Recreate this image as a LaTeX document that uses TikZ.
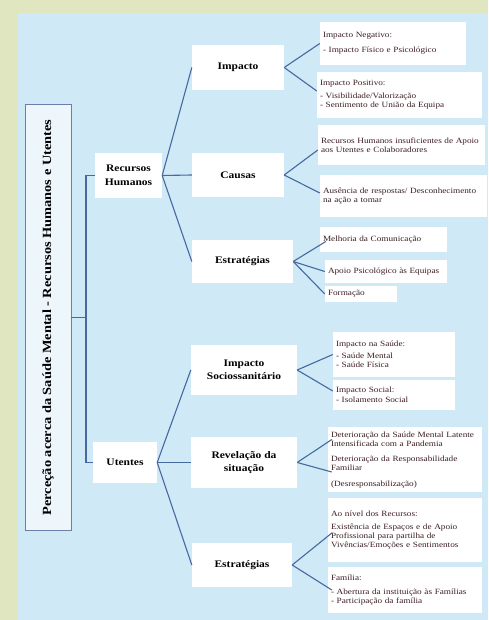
\documentclass[tikz,border=0pt]{standalone}
\usepackage{fontspec}
\setmainfont{Liberation Serif}[FakeStretch=1.15]
\newfontfamily\headfont{Carlito}
\definecolor{olivebg}{HTML}{DFE6C0}
\definecolor{panelbg}{HTML}{CFE9F6}
\definecolor{linkc}{HTML}{4669A0}
\definecolor{rootline}{HTML}{6E7DAA}
\definecolor{leafc}{HTML}{3D1F24}
\begin{document}
\begin{tikzpicture}[x=1pt,y=-1pt,
  link/.style={draw=linkc, line width=1.1pt},
  rootbox/.style={draw=rootline, line width=0.9pt, fill=white!60!panelbg},
  mainbox/.style={fill=white, inner sep=2pt, align=center, text=black,
    font=\bfseries\fontsize{10}{13.5}\selectfont},
  leafbox/.style={fill=white, inner sep=3pt, align=left, text=leafc,
    font=\fontsize{8}{8.9}\selectfont}]
\useasboundingbox (0,0) rectangle (488,620);
\fill[olivebg] (0,0) rectangle (488,620);
\node[font=\headfont\fontsize{44}{44}\selectfont, inner sep=0pt, anchor=south] (head) at (299,-11) {g};
\fill[panelbg] (18,13) rectangle (488,620);

% root
\node[rootbox, minimum width=46pt, minimum height=426pt] (root) at (48,317.5) {};
\node[rotate=90, font=\bfseries\fontsize{12.5}{14}\selectfont] (roottxt) at (root.center) {Perceção acerca da Saúde Mental - Recursos Humanos e Utentes};

% level 1
\node[mainbox, minimum width=67pt, minimum height=45pt] (rh) at (128.5,175.5) {Recursos\\Humanos};
\node[mainbox, minimum width=64pt, minimum height=41pt] (ut) at (125,462.5) {Utentes};

% level 2
\node[mainbox, minimum width=92pt, minimum height=45pt] (imp) at (238,67.5) {Impacto};
\node[mainbox, minimum width=92pt, minimum height=44pt] (cau) at (238,175) {Causas};
\node[mainbox, minimum width=101pt, minimum height=43pt] (estA) at (242.5,261.5) {Estratégias};
\node[mainbox, minimum width=106pt, minimum height=50pt] (imps) at (244,370) {Impacto\\Sociossanitário};
\node[mainbox, minimum width=106pt, minimum height=51pt] (rev) at (244,462.5) {Revelação da\\situação};
\node[mainbox, minimum width=100pt, minimum height=44pt] (estB) at (242,565) {Estratégias};

% level 3
\node[leafbox, minimum width=146pt, text width=140pt, minimum height=43pt] (neg) at (393,43.5) {Impacto Negativo:\\[6pt]- Impacto Físico e Psicológico};
\node[leafbox, minimum width=165pt, text width=159pt, minimum height=46pt] (pos) at (399.5,95) {Impacto Positivo:\\[4pt]- Visibilidade/Valorização\\- Sentimento de União da Equipa};
\node[leafbox, minimum width=167pt, text width=161pt, minimum height=40pt] (cau1) at (401.5,145) {Recursos Humanos insuficientes de Apoio\\aos Utentes e Colaboradores};
\node[leafbox, minimum width=167pt, text width=161pt, minimum height=42pt] (cau2) at (403.5,196) {Ausência de respostas/ Desconhecimento\\na ação a tomar};
\node[leafbox, minimum width=127pt, text width=121pt, minimum height=25pt] (mel) at (383.5,239.5) {Melhoria da Comunicação};
\node[leafbox, minimum width=122pt, text width=116pt, minimum height=23pt] (apo) at (386,271.5) {Apoio Psicológico às Equipas};
\node[leafbox, minimum width=72pt, text width=66pt, minimum height=16pt] (for) at (361,294) {Formação};
\node[leafbox, minimum width=122pt, text width=116pt, minimum height=45pt] (sau) at (394,354.5) {Impacto na Saúde:\\[3pt]- Saúde Mental\\- Saúde Física};
\node[leafbox, minimum width=122pt, text width=116pt, minimum height=30pt] (soc) at (394,395) {Impacto Social:\\[1pt]- Isolamento Social};
\node[leafbox, minimum width=154pt, text width=148pt, minimum height=25pt] (revA) at (405,439.5) {Deterioração da Saúde Mental Latente\\Intensificada com a Pandemia};
\node[leafbox, minimum width=154pt, text width=148pt, minimum height=40pt] (revB) at (405,472) {Deterioração da Responsabilidade\\Familiar\\[7pt](Desresponsabilização)};
\node[leafbox, minimum width=154pt, text width=148pt, minimum height=64pt] (rec) at (405,530) {Ao nível dos Recursos:\\[5pt]Existência de Espaços e de Apoio\\Profissional para partilha de\\Vivências/Emoções e Sentimentos};
\node[leafbox, minimum width=154pt, text width=148pt, minimum height=46pt] (fam) at (405,590) {Família:\\[6pt]- Abertura da instituição às Famílias\\- Participação da família};

% connectors
\coordinate (bx) at (86,317.5);
\draw[link] (root.east) -- (bx);
\draw[link] (rh.west) -| (bx) |- (ut.west);

\draw[link] (rh.east) -- (imp.west);
\draw[link] (rh.east) -- (cau.west);
\draw[link] (rh.east) -- (estA.west);
\draw[link] (ut.east) -- (imps.west);
\draw[link] (ut.east) -- (rev.west);
\draw[link] (ut.east) -- (estB.west);

\draw[link] (imp.east) -- (neg.west);
\draw[link] (imp.east) -- ([yshift=4pt]pos.west);
\draw[link] (cau.east) -- ([yshift=-5pt]cau1.west);
\draw[link] (cau.east) -- ([yshift=3pt]cau2.west);
\draw[link] (estA.east) -- ([xshift=6pt,yshift=-2pt]mel.west);
\draw[link] (estA.east) -- (apo.west);
\draw[link] (estA.east) -- (for.west);
\draw[link] (imps.east) -- (sau.west);
\draw[link] (imps.east) -- ([yshift=4pt]soc.west);
\draw[link] (rev.east) -- ([xshift=4pt]revA.west);
\draw[link] (rev.east) -- ([xshift=4pt]revB.west);
\draw[link] (estB.east) -- ([xshift=4pt,yshift=-3pt]rec.west);
\draw[link] (estB.east) -- ([xshift=4pt]fam.west);
\end{tikzpicture}
\end{document}
